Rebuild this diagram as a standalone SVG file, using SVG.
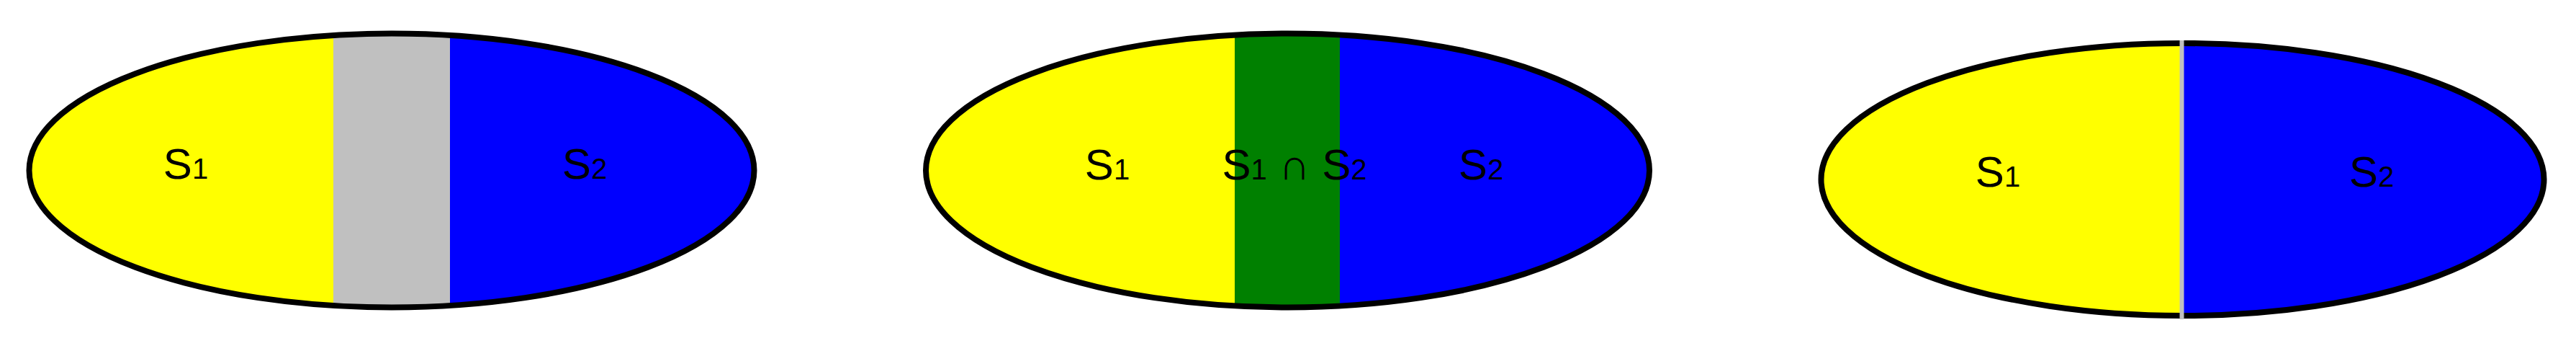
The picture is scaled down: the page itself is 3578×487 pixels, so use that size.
<svg xmlns="http://www.w3.org/2000/svg" width="3578" height="487" viewBox="0 0 3578 487">
<style>
.y{fill:#ffff00}
.b{fill:#0000ff}
.g{fill:#c0c0c0}
.gr{fill:#008000}
.o{fill:none;stroke:#000;stroke-width:8}
.t{font-family:"Liberation Sans",Arial,sans-serif;font-size:60px;fill:#000;text-anchor:middle}
.s{font-size:40px}
</style>
<defs>
<clipPath id="c1"><ellipse cx="544" cy="236.5" rx="503.5" ry="190"/></clipPath>
<clipPath id="c2"><ellipse cx="1788.5" cy="236.5" rx="502.5" ry="190"/></clipPath>
<clipPath id="c3"><ellipse cx="3031.5" cy="249" rx="502" ry="189"/></clipPath>
</defs>
<g id="diagram1">
<g clip-path="url(#c1)">
<rect class="y" x="30" y="40" width="514" height="400"/>
<rect class="b" x="544" y="40" width="520" height="400"/>
<rect class="g" x="463" y="40" width="162" height="400"/>
</g>
<ellipse class="o" cx="544" cy="236.5" rx="503.5" ry="190"/>
<text class="t" x="258" y="248">S<tspan class="s">1</tspan></text>
<text class="t" x="812" y="248">S<tspan class="s">2</tspan></text>
</g>
<g id="diagram2">
<g clip-path="url(#c2)">
<rect class="y" x="1275" y="40" width="514" height="400"/>
<rect class="b" x="1788" y="40" width="520" height="400"/>
<rect class="gr" x="1715" y="40" width="146" height="400"/>
</g>
<ellipse class="o" cx="1788.5" cy="236.5" rx="502.5" ry="190"/>
<text class="t" x="1538" y="249">S<tspan class="s">1</tspan></text>
<text class="t" x="1798" y="249">S<tspan class="s">1</tspan> ∩ S<tspan class="s">2</tspan></text>
<text class="t" x="2057" y="249">S<tspan class="s">2</tspan></text>
</g>
<g id="diagram3">
<g clip-path="url(#c3)">
<rect class="y" x="2520" y="50" width="512" height="400"/>
<rect class="b" x="3031" y="50" width="512" height="400"/>
</g>
<ellipse class="o" cx="3031.5" cy="249" rx="502" ry="189"/>
<rect class="g" x="3027.5" y="56" width="6" height="387"/>
<text class="t" x="2775" y="259">S<tspan class="s">1</tspan></text>
<text class="t" x="3294" y="259">S<tspan class="s">2</tspan></text>
</g>
</svg>
